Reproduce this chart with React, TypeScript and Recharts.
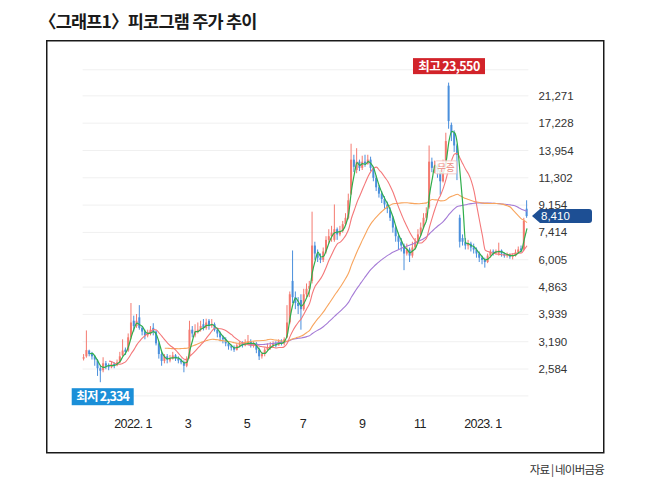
import React from 'react';
import { ComposedChart, Bar, Line, XAxis, YAxis, CartesianGrid, ReferenceDot } from 'recharts';

// Each candle ≈ 2 trading sessions, mid-Nov 2021 .. mid-Feb 2023 (prices in KRW)
const opens = [
  2800, 2850, 2980, 2900, 2850, 2760, 2600, 2560, 2700, 2660,
  2620, 2690, 2660, 2720, 2870, 3000, 2980, 3300, 3750, 3600,
  3850, 3550, 3450, 3350, 3400, 3550, 3450, 3150, 2900, 2750,
  2850, 2760, 2800, 2870, 2800, 2760, 2720, 2650, 2850, 3500,
  3350, 3450, 3500, 3650, 3550, 3750, 3600, 3650, 3500, 3400,
  3300, 3250, 3150, 3080, 3050, 3000, 3100, 3150, 3100, 3150,
  3200, 3100, 3150, 3000, 2850, 2900, 3000, 3050, 3100, 3150,
  3100, 3200, 3150, 3300, 3700, 5100, 4500, 4300, 4400, 4100,
  4600, 4800, 5100, 6700, 6300, 6100, 6000, 6400, 7000, 7200,
  7000, 7600, 7300, 7500, 7900, 8300, 10000, 13000, 12000, 12800,
  12200, 12800, 12600, 13000, 12200, 11300, 10500, 10000, 9600, 9200,
  8800, 8300, 7700, 7200, 6900, 6700, 6300, 6500, 6200, 6600,
  6900, 7300, 7700, 8300, 9000, 12800, 12200, 12400, 11800, 11000,
  12500, 23000, 17000, 16000, 14500, 8300, 7100, 6900, 6700, 6800,
  6600, 6500, 6300, 6100, 6000, 5900, 6200, 6400, 6350, 6300,
  6450, 6300, 6200, 6250, 6150, 6200, 6350, 6550, 6500, 8900,
];
const highs = [
  2900, 3480, 3000, 2950, 2880, 2790, 2650, 2830, 2750, 2700,
  2740, 2720, 2780, 2950, 3250, 3050, 3400, 4300, 3900, 3950,
  4230, 3600, 3500, 3500, 3600, 3680, 3480, 3200, 2950, 2900,
  2900, 2880, 2950, 2900, 2850, 2800, 2760, 2850, 3750, 3600,
  3650, 3700, 3750, 3800, 3810, 3800, 3800, 3700, 3550, 3450,
  3350, 3300, 3200, 3120, 3100, 3150, 3200, 3200, 3250, 3360,
  3250, 3200, 3180, 3050, 2950, 3050, 3150, 3180, 3200, 3200,
  3250, 3250, 3300, 4230, 4700, 6450, 4700, 4500, 4600, 4800,
  5000, 5100, 8700, 6900, 6500, 6300, 6600, 7200, 7600, 7800,
  9200, 7700, 7800, 8100, 8600, 10000, 14700, 13500, 14200, 13000,
  13400, 13500, 13500, 13300, 12300, 11500, 10700, 10200, 9800, 9400,
  9000, 8400, 7800, 7400, 7100, 6800, 6800, 6600, 6900, 7100,
  7600, 8000, 8600, 9000, 14500, 13200, 12900, 12600, 12000, 13000,
  16000, 23550, 17300, 16300, 14700, 8500, 7300, 7100, 7000, 6900,
  6800, 6600, 6400, 6200, 6100, 6300, 6500, 6500, 6500, 6850,
  6500, 6350, 6350, 6300, 6300, 6500, 6650, 6700, 8300, 9500,
];
const lows = [
  2760, 2820, 2850, 2780, 2650, 2450, 2334, 2520, 2580, 2560,
  2600, 2600, 2640, 2700, 2850, 2880, 2950, 3250, 3450, 3550,
  3500, 3350, 3250, 3300, 3350, 3350, 3100, 2800, 2650, 2700,
  2700, 2720, 2780, 2750, 2700, 2680, 2520, 2620, 2800, 3300,
  3300, 3400, 3450, 3480, 3500, 3500, 3550, 3450, 3300, 3200,
  3150, 3080, 3000, 2980, 2950, 2980, 3050, 3050, 3080, 3100,
  3050, 3050, 2920, 2770, 2800, 2850, 2980, 3000, 3050, 3050,
  3100, 3100, 3100, 3280, 3650, 4300, 4100, 3950, 3500, 4050,
  4500, 4500, 5000, 6000, 5900, 5850, 5900, 6300, 6800, 6900,
  6900, 7000, 7200, 7400, 7800, 8200, 9900, 11800, 11700, 11900,
  12000, 12300, 12500, 11900, 11000, 10200, 9700, 9300, 8900, 8600,
  8100, 7400, 6900, 6500, 6400, 5540, 6200, 5900, 6100, 6500,
  6800, 7200, 7600, 8100, 8900, 11800, 11700, 11300, 9900, 10900,
  12400, 16500, 15000, 13800, 11100, 6600, 6700, 6500, 6500, 6400,
  6300, 6100, 5900, 5800, 5650, 5850, 6100, 6200, 6250, 6200,
  6150, 6100, 6100, 6050, 6020, 6150, 6300, 6350, 6450, 8300,
];
const closes = [
  2830, 2990, 2900, 2850, 2780, 2600, 2550, 2700, 2650, 2620,
  2690, 2660, 2720, 2850, 2980, 2950, 3300, 3700, 3600, 3750,
  3550, 3450, 3350, 3400, 3500, 3450, 3150, 2900, 2750, 2850,
  2780, 2800, 2870, 2800, 2760, 2720, 2650, 2800, 3500, 3400,
  3450, 3500, 3600, 3550, 3700, 3600, 3650, 3500, 3400, 3300,
  3250, 3150, 3080, 3050, 3000, 3100, 3150, 3100, 3150, 3200,
  3100, 3150, 3000, 2850, 2900, 3000, 3050, 3100, 3150, 3100,
  3200, 3150, 3250, 3700, 4600, 4500, 4300, 4200, 4100, 4600,
  4800, 4900, 6700, 6300, 6100, 6000, 6400, 7000, 7200, 7400,
  7600, 7300, 7500, 7900, 8300, 9500, 13000, 12300, 12800, 12200,
  12800, 12600, 13000, 12200, 11300, 10500, 10000, 9600, 9200, 8900,
  8300, 7700, 7200, 6900, 6700, 6300, 6500, 6200, 6600, 6900,
  7300, 7700, 8300, 8600, 12800, 12200, 12400, 11800, 11000, 12500,
  15000, 17500, 16000, 14500, 13500, 6900, 6900, 6700, 6800, 6600,
  6500, 6300, 6100, 6000, 5900, 6200, 6400, 6350, 6400, 6450,
  6300, 6200, 6250, 6150, 6200, 6350, 6500, 6450, 8100, 8410,
];

const monthTickPos = [17.6, 37.3, 58.5, 78.6, 99.8, 120.6, 143.2];
const monthTickLabels = ['2022. 1', '3', '5', '7', '9', '11', '2023. 1'];
const priceTicks = [2584, 3190, 3939, 4863, 6005, 7414, 9154, 11302, 13954, 17228, 21271];

// moving-average windows in candles (5 / 20 / 60 / 120 sessions)
const MA_WINDOWS = [3, 10, 30, 60];

const UP = '#f47a70';
const DOWN = '#4a8fdc';
const NARROW = "'Liberation Sans Narrow', 'Arial Narrow', 'Liberation Sans', Arial, sans-serif";
const KR = "'Noto Sans CJK KR', 'Noto Sans', sans-serif";

function movingAverage(values: number[], n: number): (number | null)[] {
  return values.map((_, i) => {
    if (i < n - 1) return null;
    let s = 0;
    for (let k = i - n + 1; k <= i; k++) s += values[k];
    return s / n;
  });
}

const ma5 = movingAverage(closes, MA_WINDOWS[0]);
const ma20 = movingAverage(closes, MA_WINDOWS[1]);
const ma60 = movingAverage(closes, MA_WINDOWS[2]);
const ma120 = movingAverage(closes, MA_WINDOWS[3]);

const data = closes.map((c, i) => ({
  i,
  open: opens[i],
  high: highs[i],
  low: lows[i],
  close: c,
  range: [lows[i], highs[i]],
  ma5: ma5[i],
  ma20: ma20[i],
  ma60: ma60[i],
  ma120: ma120[i],
}));

const peakIdx = highs.indexOf(Math.max(...highs));
const lowIdx = lows.indexOf(Math.min(...lows));
const lastIdx = closes.length - 1;
const bonusIdx = 129;
const bonusLabelValue = 12200;

const fmt = (v: number) => v.toLocaleString('en-US');

const Candle = (props: any) => {
  const { x, y, width, height, payload } = props;
  if (!payload || x == null || y == null) return null;
  const { open, close, high, low } = payload;
  const top = Math.min(y, y + height);
  const h = Math.abs(height);
  const lh = Math.log(high);
  const span = lh - Math.log(low) || 1;
  const py = (v: number) => top + (h * (lh - Math.log(v))) / span;
  const color = close >= open ? UP : DOWN;
  const cx = x + width / 2;
  const bTop = py(Math.max(open, close));
  const bBot = py(Math.min(open, close));
  return (
    <g>
      <line x1={cx} x2={cx} y1={top} y2={top + h} stroke={color} strokeWidth={1} />
      <rect x={x} y={bTop} width={width} height={Math.max(1, bBot - bTop)} fill={color} />
    </g>
  );
};

const PeakLabel = (props: any) => {
  const { cx, cy } = props;
  const w = 72, h = 16;
  return (
    <g>
      <rect x={cx - w / 2} y={cy - 24.5} width={w} height={h} fill="#d2232a" />
      <text x={cx} y={cy - 12} textAnchor="middle" fill="#fff" fontSize={12.5} fontWeight={700}
        fontFamily={KR} letterSpacing={-0.6}>
        {`최고 ${fmt(highs[peakIdx])}`}
      </text>
    </g>
  );
};

const LowLabel = (props: any) => {
  const { cx, cy } = props;
  const w = 62, h = 17;
  return (
    <g>
      <rect x={cx + 2 - w / 2} y={cy + 6} width={w} height={h} fill="#1b8fd8" />
      <text x={cx + 2} y={cy + 19} textAnchor="middle" fill="#fff" fontSize={12.5} fontWeight={700}
        fontFamily={KR} letterSpacing={-0.8}>
        {`최저 ${fmt(lows[lowIdx])}`}
      </text>
    </g>
  );
};

const LastTag = (props: any) => {
  const { cx, cy } = props;
  const x0 = cx + 5;
  const x1 = x0 + 60;
  const t = cy - 7, b = cy + 7;
  const d = `M${x0},${cy} L${x0 + 8},${t} L${x1 - 3},${t} Q${x1},${t} ${x1},${t + 3} L${x1},${b - 3} Q${x1},${b} ${x1 - 3},${b} L${x0 + 8},${b} Z`;
  return (
    <g>
      <path d={d} fill="#1d4f94" />
      <text x={x0 + 9} y={cy + 4} fill="#fff" fontSize={11.5} fontFamily={NARROW}>
        {fmt(closes[lastIdx])}
      </text>
    </g>
  );
};

const BonusLabel = (props: any) => {
  const { cx, cy } = props;
  return (
    <g>
      <rect x={cx - 8} y={cy - 7} width={21} height={13} fill="#fff" fillOpacity={0.85} stroke="#f3c0bb" strokeWidth={0.8} rx={1} />
      <text x={cx + 2.5} y={cy + 3} textAnchor="middle" fill="#ec8a80" fontSize={9.5} fontFamily={KR}>
        무증
      </text>
    </g>
  );
};

export default function App() {
  return (
    <div style={{ position: 'absolute', left: 0, top: 0, width: 650, height: 482, background: '#fff', overflow: 'hidden' }}>
      <svg width={650} height={482} style={{ position: 'absolute', left: 0, top: 0 }}>
        <text x={39} y={28} fontSize={17.5} fontWeight={700} fontFamily={KR} fill="#1a1a1a" letterSpacing={-0.8}>
          〈그래프1〉피코그램 주가 추이
        </text>
        <rect x={46.75} y={40.75} width={557} height={412} fill="none" stroke="#1a1a1a" strokeWidth={1.5} />
        <text x={604} y={474} textAnchor="end" fontSize={11.5} fontFamily={KR} fill="#333" letterSpacing={-0.8}>
          자료 | 네이버금융
        </text>
      </svg>
      <div style={{ position: 'absolute', left: 0, top: 0 }}>
        <ComposedChart
          width={650}
          height={482}
          data={data}
          margin={{ top: 69.8, right: 61.6, bottom: 56.1, left: 82.6 }}
        >
          <CartesianGrid vertical={false} stroke="#f0f0f0" strokeWidth={1} />
          <XAxis
            dataKey="i"
            type="number"
            domain={[-0.5, lastIdx + 0.5]}
            ticks={monthTickPos}
            interval={0}
            tickFormatter={(v: number) => monthTickLabels[monthTickPos.indexOf(v)] ?? ''}
            axisLine={false}
            tickLine={false}
            tickMargin={17}
            height={30}
            tick={{ fontSize: 12.5, fill: '#222', fontFamily: NARROW, letterSpacing: -0.6 }}
          />
          <YAxis
            orientation="right"
            scale="log"
            domain={[2100, 26000]}
            allowDataOverflow
            ticks={priceTicks}
            interval={0}
            tickFormatter={(v: number) => fmt(v)}
            axisLine={false}
            tickLine={false}
            tickMargin={4}
            width={60}
            tick={{ fontSize: 11.5, fill: '#333', fontFamily: NARROW, textAnchor: 'start' }}
          />
          <Bar dataKey="range" barSize={2} shape={<Candle />} isAnimationActive={false} />
          <Line dataKey="ma120" stroke="#a57bd6" strokeWidth={1.1} dot={false} type="monotone" isAnimationActive={false} />
          <Line dataKey="ma60" stroke="#f8a55e" strokeWidth={1.1} dot={false} type="monotone" isAnimationActive={false} />
          <Line dataKey="ma20" stroke="#f4787a" strokeWidth={1.1} dot={false} type="monotone" isAnimationActive={false} />
          <Line dataKey="ma5" stroke="#2fae4c" strokeWidth={1.2} dot={false} type="monotone" isAnimationActive={false} />
          <ReferenceDot x={bonusIdx} y={bonusLabelValue} r={0} shape={<BonusLabel />} ifOverflow="visible" />
          <ReferenceDot x={peakIdx} y={highs[peakIdx]} r={0} shape={<PeakLabel />} ifOverflow="visible" />
          <ReferenceDot x={lowIdx} y={lows[lowIdx]} r={0} shape={<LowLabel />} ifOverflow="visible" />
          <ReferenceDot x={lastIdx} y={closes[lastIdx]} r={0} shape={<LastTag />} ifOverflow="visible" />
        </ComposedChart>
      </div>
    </div>
  );
}
